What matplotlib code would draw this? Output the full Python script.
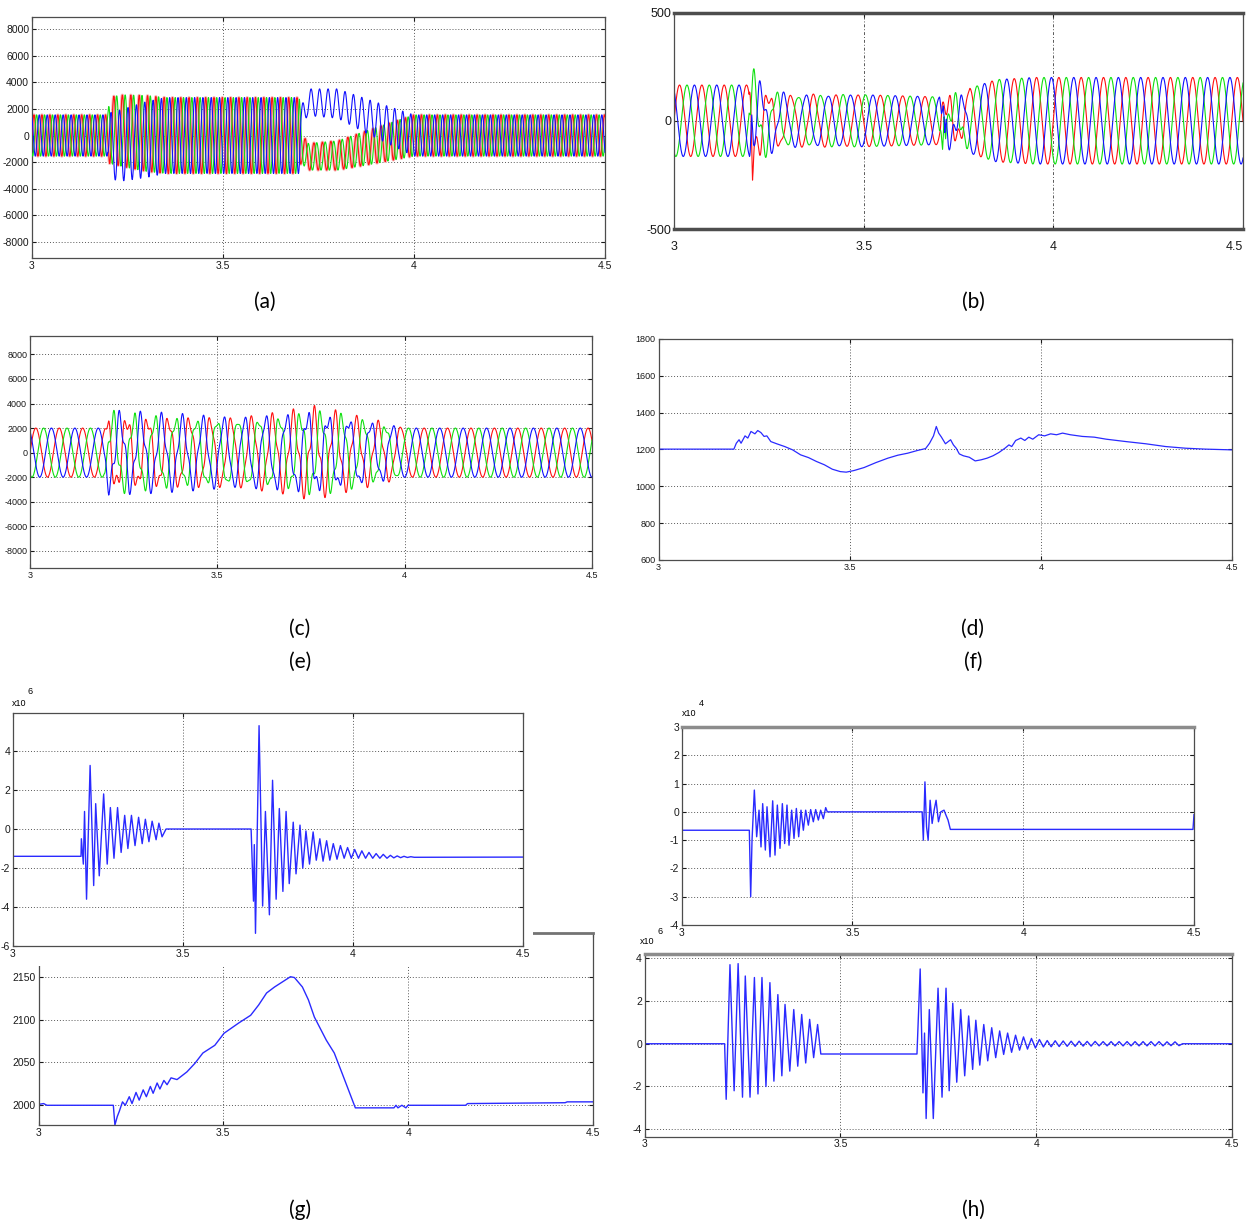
import numpy as np
import matplotlib
matplotlib.use("Agg")
import matplotlib.pyplot as plt
from matplotlib.patches import Rectangle

# ---------------- data ----------------
XT = [3.0, 3.5, 4.0, 4.5]
XTL = ['3', '3.5', '4', '4.5']

# (a) three-phase envelope knots
a_t    = [3.0, 3.198, 3.203, 3.24, 3.30, 3.35, 3.70, 3.705, 3.72, 3.80, 3.88, 4.0, 4.5]
a_amp  = [1550, 1550, 2500, 2700, 2850, 2850, 2850, 1300, 1000, 1100, 1300, 1550, 1550]
a_dcb  = [0, 0, -800, -700, -300, 0, 0, 800, 2500, 2400, 1400, 0, 0]
a_dcrg = [0, 0, 400, 350, 150, 0, 0, -700, -1600, -1500, -900, 0, 0]
a_freq = [48, 48, 45, 45, 46, 46, 46, 45, 45, 45, 46, 48, 48]
a_yt   = [-8000, -6000, -4000, -2000, 0, 2000, 4000, 6000, 8000]

# (b)
b_t    = [3.0, 3.198, 3.202, 3.215, 3.25, 3.30, 3.50, 3.70, 3.705, 3.72, 3.76, 3.78, 3.85, 3.95, 4.5]
b_amp  = [165, 165, 190, 150, 120, 115, 120, 110, 100, 90, 80, 150, 190, 200, 200]
b_dist = [0, 0, 90, 70, 40, 10, 0, 0, 60, 60, 40, 0, 0, 0, 0]
b_freq = [17, 17, 17, 17, 17, 17, 17, 17, 17, 17, 17, 17, 17, 17, 17]
b_spk_ph = [0, 2, 1, 2]
b_spk_t  = [3.207, 3.205, 3.712, 3.714]
b_spk_v  = [-170, 110, 170, -130]
b_yt   = [-500, 0, 500]

# (c)
c_t    = [3.0, 3.198, 3.21, 3.3, 3.45, 3.55, 3.68, 3.75, 3.82, 3.88, 3.95, 4.0, 4.5]
c_amp  = [2000, 2000, 2700, 2700, 2600, 2600, 2800, 3000, 2800, 2500, 2100, 2000, 2000]
c_dist = [0, 0, 900, 700, 500, 300, 600, 900, 700, 500, 400, 0, 0]
c_freq = [16, 16, 18, 18, 18, 18, 18, 18, 18, 17, 17, 16, 16]

# (d)
d_t = [3.000, 3.1972, 3.2035, 3.2107, 3.2159, 3.2263, 3.2336, 3.2419, 3.2522, 3.2595,
       3.2678, 3.2761, 3.2834, 3.2938, 3.3093, 3.3301, 3.3508, 3.3716, 3.3924, 3.4131,
       3.4339, 3.4546, 3.4754, 3.4910, 3.5117, 3.5377, 3.5688, 3.6000, 3.6259, 3.6519,
       3.6778, 3.6986, 3.7090, 3.7193, 3.7266, 3.7328, 3.7401, 3.7505, 3.7578, 3.7640,
       3.7713, 3.7786, 3.7868, 3.7972, 3.8128, 3.8283, 3.8439, 3.8595, 3.8750, 3.8906,
       3.9062, 3.9166, 3.9239, 3.9342, 3.9477, 3.9581, 3.9685, 3.9789, 3.9944, 4.0100,
       4.0256, 4.0411, 4.0567, 4.0775, 4.1086, 4.1397, 4.1709, 4.2228, 4.2747, 4.3266,
       4.3785, 4.4304, 4.5000]
d_v = [1202, 1202, 1234, 1253, 1234, 1274, 1262, 1298, 1285, 1303,
       1292, 1271, 1274, 1243, 1231, 1216, 1198, 1171, 1156, 1135,
       1117, 1093, 1080, 1077, 1086, 1102, 1129, 1153, 1169, 1180,
       1195, 1205, 1234, 1274, 1325, 1289, 1267, 1231, 1243, 1253,
       1225, 1207, 1176, 1166, 1158, 1138, 1144, 1153, 1166, 1184,
       1207, 1225, 1216, 1249, 1262, 1249, 1267, 1256, 1280, 1274,
       1285, 1280, 1289, 1280, 1271, 1267, 1256, 1243, 1231, 1216,
       1207, 1202, 1198]
d_yt = [600, 800, 1000, 1200, 1400, 1600, 1800]

# (g) top, x10^6
g1_t = ([3.0, 3.2] +
        [3.2011, 3.2069, 3.2104, 3.2163, 3.2268, 3.2373, 3.2432, 3.2537, 3.2666, 3.2771,
         3.2864, 3.2970, 3.3075, 3.3180, 3.3285, 3.3379, 3.3484, 3.3589, 3.3694, 3.3800,
         3.3893, 3.3998, 3.4092, 3.4209, 3.4291, 3.4384, 3.4501] +
        [3.7003, 3.7073, 3.7097, 3.7132, 3.7237, 3.7342, 3.7424, 3.7541, 3.7634, 3.7739,
         3.7833, 3.7938, 3.8032, 3.8125, 3.8242, 3.8324, 3.8441, 3.8523, 3.8616, 3.8721,
         3.8827, 3.8920, 3.9025, 3.9119, 3.9224, 3.9318] +
        [3.942, 3.953, 3.963, 3.974, 3.984, 3.995, 4.005, 4.016, 4.026, 4.037, 4.047,
         4.058, 4.068, 4.079, 4.089, 4.100, 4.110, 4.120, 4.130, 4.140, 4.150, 4.160,
         4.170, 4.180, 4.5])
g1_v = ([-1.4, -1.4] +
        [-0.5, -1.8, 0.9, -3.6, 3.26, -2.9, 1.3, -2.4, 1.8, -1.8,
         1.1, -1.5, 1.1, -1.2, 0.7, -1.0, 0.7, -0.85, 0.6, -0.75,
         0.5, -0.65, 0.4, -0.55, 0.3, -0.4, 0.0] +
        [0.0, -3.7, -0.8, -5.35, 5.3, -3.95, 0.9, -4.4, 2.5, -3.6,
         1.05, -3.2, 0.9, -2.8, 0.35, -2.3, 0.2, -2.0, -0.1, -1.8,
         -0.15, -1.6, -0.5, -1.65, -0.6, -1.6] +
        [-0.75, -1.55, -0.85, -1.5, -0.95, -1.5, -1.05, -1.5, -1.12, -1.5, -1.2,
         -1.5, -1.26, -1.5, -1.3, -1.5, -1.35, -1.48, -1.38, -1.47, -1.4, -1.46,
         -1.42, -1.45, -1.44])
g1_yt = [-6, -4, -2, 0, 2, 4]

# (g) bottom
g2_t = [3.000, 3.014, 3.0226, 3.2024, 3.2067, 3.2132, 3.2186, 3.2272, 3.2347, 3.2455,
        3.2530, 3.2638, 3.2724, 3.2832, 3.2918, 3.3026, 3.3101, 3.3209, 3.3284, 3.3392,
        3.3478, 3.3586, 3.3747, 3.4016, 3.4232, 3.4447, 3.4770, 3.5018, 3.5416, 3.5739,
        3.5955, 3.6170, 3.6385, 3.6601, 3.6816, 3.6924, 3.7139, 3.7301, 3.7462, 3.7785,
        3.8001, 3.8216, 3.8571, 3.9616, 3.9670, 3.9723, 3.9830, 3.9939, 3.9993, 4.1554,
        4.1608, 4.4246, 4.4300, 4.5000]
g2_v = [2001, 2002, 2000, 2000, 1977, 1987, 1993, 2004, 2000, 2010,
        2002, 2015, 2006, 2018, 2010, 2022, 2014, 2026, 2019, 2029,
        2024, 2032, 2030, 2039, 2049, 2061, 2070, 2084, 2096, 2105,
        2117, 2131, 2138, 2144, 2150, 2149, 2138, 2123, 2103, 2076,
        2061, 2037, 1997, 1997, 2000, 1997, 2000, 1997, 2000, 2000,
        2002, 2003, 2004, 2004]
g2_yt = [2000, 2050, 2100, 2150]

# (h) top, x10^4
h1_t = ([3.0] +
        [3.1980, 3.2020, 3.2059, 3.2127, 3.2195, 3.2264, 3.2322, 3.2371, 3.2449, 3.2498,
         3.2586, 3.2664, 3.2732, 3.2800, 3.2878, 3.2947, 3.3015, 3.3083, 3.3142, 3.3220,
         3.3288, 3.3357, 3.3425, 3.3493, 3.3562, 3.3630, 3.3708, 3.3776, 3.3854, 3.3923,
         3.4001, 3.4069, 3.4147, 3.4216, 3.4264] +
        [3.7040, 3.7075, 3.7122, 3.7169, 3.7216, 3.7274, 3.7333, 3.7391, 3.7448, 3.7518,
         3.7587, 3.7681, 3.7739, 3.7798, 3.7866] +
        [4.497, 4.5])
h1_v = ([-0.65] +
        [-0.65, -3.0, -1.0, 0.77, -0.88, 0.06, -1.24, 0.29, -1.35, 0.18,
         -1.59, 0.39, -1.53, 0.24, -1.29, 0.29, -1.12, 0.24, -1.18, 0.06,
         -0.94, 0.12, -0.88, 0.06, -0.65, 0.06, -0.47, 0.08, -0.35, 0.08,
         -0.29, 0.06, -0.24, 0.15, 0.0] +
        [0.0, -1.0, 1.06, -0.53, -1.0, 0.41, -0.41, 0.06, 0.41, -0.35,
         0.0, 0.06, -0.12, -0.29, -0.62] +
        [-0.62, -0.1])
h1_yt = [-4, -3, -2, -1, 0, 1, 2, 3]

# (h) bottom, x10^6
h2_t = ([3.0] +
        [3.2041, 3.2081, 3.2178, 3.2284, 3.2386, 3.2498, 3.2569, 3.2690, 3.2802, 3.2893,
         3.2995, 3.3097, 3.3198, 3.3300, 3.3401, 3.3503, 3.3584, 3.3706, 3.3807, 3.3909,
         3.4010, 3.4112, 3.4213, 3.4315, 3.4416, 3.4498] +
        [3.6954, 3.7036, 3.7107, 3.7147, 3.7188, 3.7269, 3.7371, 3.7492, 3.7594, 3.7696,
         3.7777, 3.7868, 3.7970, 3.8071, 3.8173, 3.8274, 3.8376, 3.8457, 3.8558, 3.8660,
         3.8761, 3.8863, 3.8965, 3.9066, 3.9168, 3.9269, 3.9371, 3.9472, 3.9574, 3.9675,
         3.9777, 3.9878, 3.9980, 4.0081, 4.0183])
h2_v = ([0.0] +
        [0.0, -2.6, 3.7, -2.2, 3.75, -2.5, 3.17, -2.5, 3.1, -2.35,
         3.1, -2.0, 2.86, -1.75, 2.3, -1.5, 1.84, -1.28, 1.6, -1.05,
         1.37, -0.9, 1.14, -0.65, 0.9, -0.48] +
        [-0.48, 3.5, -2.3, 0.5, -3.5, 1.6, -3.5, 2.6, -2.5, 2.6,
         -2.2, 1.9, -1.8, 1.6, -1.5, 1.3, -1.2, 1.1, -1.0, 0.9,
         -0.8, 0.75, -0.65, 0.6, -0.5, 0.5, -0.4, 0.4, -0.3, 0.32,
         -0.25, 0.25, -0.2, 0.2, -0.15])
h2_rip_t0, h2_rip_half = 4.028, 0.0102
h2_rip_v = [0.15, -0.14, 0.14, -0.13, 0.13, -0.12, 0.12, -0.12, 0.12, -0.11, 0.11, -0.11,
            0.11, -0.10, 0.10, -0.10, 0.10, -0.10, 0.10, -0.10, 0.10, -0.10, 0.10, -0.10,
            0.10, -0.10, 0.10, -0.10, 0.10, -0.10, 0.09, -0.09, 0.09, -0.09]
h2_end_t = [4.3736, 4.5]
h2_end_v = [0.0, 0.0]
h2_yt = [-4, -2, 0, 2, 4]

PANEL_LABELS = ['(a)', '(b)', '(c)', '(d)', '(e)', '(f)', '(g)', '(h)']
PANEL_XY = [(265, 302), (973, 302), (300, 629), (973, 629), (300, 662), (973, 662),
            (300, 1210), (973, 1210)]

# ---------------- drawing ----------------
W, H = 1250, 1224
fig = plt.figure(figsize=(W / 100, H / 100), dpi=100)
fig.patch.set_facecolor('white')
TF = ['Liberation Sans Narrow', 'Liberation Sans', 'DejaVu Sans']
RED, GREEN, BLUE = '#ff1010', '#10e010', '#1010ff'
LBLUE = '#2a2aff'


def add_ax(l, t, r, b, z=0):
    return fig.add_axes([l / W, 1 - b / H, (r - l) / W, (b - t) / H], zorder=z)


def style(ax, ylim, yticks, fs=7.5, grid_y=True, grid_x=True, xpad=2):
    ax.set_xlim(3.0, 4.5)
    ax.set_ylim(*ylim)
    ax.set_xticks(XT)
    ax.set_xticklabels(XTL)
    ax.set_yticks(yticks)
    ax.set_yticklabels([str(v) for v in yticks])
    ax.tick_params(direction='in', length=3, width=0.8, top=True, right=True,
                   labelsize=fs, pad=2, colors='0.1')
    ax.tick_params(axis='x', pad=xpad)
    for lab in ax.get_xticklabels() + ax.get_yticklabels():
        lab.set_family(TF)
    if grid_x:
        ax.grid(True, axis='x', linestyle=(0, (1, 2)), color='0.35', linewidth=0.7)
    if grid_y:
        ax.grid(True, axis='y', linestyle=(0, (1, 2)), color='0.35', linewidth=0.7)
    ax.set_axisbelow(True)
    for sp in ax.spines.values():
        sp.set_color('0.3')
        sp.set_linewidth(0.9)


T = np.arange(3.0, 4.5 + 1e-9, 1e-4)


def three_phase(kt, amp, freq, dcb=None, dcrg=None, dist=None, spk_ph=(), spk_t=(), spk_v=(), fd=47.0):
    A = np.interp(T, kt, amp)
    f = np.interp(T, kt, freq)
    ph = 2 * np.pi * np.cumsum(f) * 1e-4
    D = np.interp(T, kt, dist) if dist is not None else 0 * T
    dc_b = np.interp(T, kt, dcb) if dcb is not None else 0 * T
    dc_rg = np.interp(T, kt, dcrg) if dcrg is not None else -dc_b / 2
    out = []
    for k in range(3):
        y = A * np.sin(ph - 2 * np.pi * k / 3) + D * np.sin(2 * np.pi * fd * T + 2.1 * k)
        y = y + (dc_b if k == 2 else dc_rg)
        for p, t0, v in zip(spk_ph, spk_t, spk_v):
            if p == k:
                y = y + np.interp(T, [t0 - 0.004, t0, t0 + 0.004], [0, v, 0], left=0, right=0)
        out.append(y)
    return out


# (a)
ax = add_ax(32, 17, 605, 258)
ya = three_phase(a_t, a_amp, a_freq, dcb=a_dcb, dcrg=a_dcrg)
ax.plot(T, ya[0], color='#f6b8b8', lw=2.2, zorder=2)
for y, c in zip(ya, [RED, GREEN, BLUE]):
    ax.plot(T, y, color=c, lw=0.8, zorder=3)
style(ax, (-9200, 8900), a_yt, fs=7.5)

# (b)
ax = add_ax(674, 12.5, 1243, 229)
yb = three_phase(b_t, b_amp, b_freq, dist=b_dist, spk_ph=b_spk_ph, spk_t=b_spk_t, spk_v=b_spk_v)
for y, c in zip(yb, [RED, GREEN, BLUE]):
    ax.plot(T, y, color=c, lw=0.8)
style(ax, (-500, 500), b_yt, fs=9, grid_y=False, xpad=9)
ax.axhline(0, color='0.3', lw=0.7, ls=(0, (1, 2)))
ax.grid(True, axis='x', linestyle=(0, (3, 2, 1, 2)), color='0.35', linewidth=0.7)
ax.spines['top'].set_linewidth(2.5)
ax.spines['bottom'].set_linewidth(2.5)
ax.get_xticklabels()[-1].set_horizontalalignment('right')

# (c)
ax = add_ax(30, 336, 592, 568)
yc = three_phase(c_t, c_amp, c_freq, dist=c_dist, fd=53.0)
for y, c in zip(yc, [RED, GREEN, BLUE]):
    ax.plot(T, y, color=c, lw=0.8)
style(ax, (-9400, 9500), a_yt, fs=6.5)

# (d)
ax = add_ax(658.5, 339, 1232, 560)
ax.plot(d_t, d_v, color=LBLUE, lw=0.9)
style(ax, (600, 1800), d_yt, fs=6.5)

# (g) bottom (drawn first, partially hidden)
axg2 = add_ax(38.5, 933, 593, 1125, z=0)
axg2.plot(g2_t, g2_v, color=LBLUE, lw=1.0)
style(axg2, (1977, 2201), g2_yt, fs=7.5)
axg2.spines['top'].set_linewidth(2.0)
axg2.spines['top'].set_color('0.45')
fig.add_artist(Rectangle((0, 1 - 966 / H), 533 / W, (966 - 690) / H, transform=fig.transFigure,
                         facecolor='white', edgecolor='none', zorder=1))

# (g) top
axg1 = add_ax(13, 713, 523, 946, z=2)
axg1.plot(g1_t, g1_v, color=LBLUE, lw=1.0)
style(axg1, (-6, 5.95), g1_yt, fs=7.5)
fig.text(12 / W, 1 - 704 / H, 'x10', fontsize=6.5, family=TF, ha='left', va='center')
fig.text(27 / W, 1 - 692 / H, '6', fontsize=6.5, family=TF, ha='left', va='center')

# (h) top
ax = add_ax(681.7, 727, 1194, 925)
ax.plot(h1_t, h1_v, color=LBLUE, lw=1.0)
style(ax, (-4, 3), h1_yt, fs=7.5)
ax.spines['top'].set_linewidth(2.5)
ax.spines['top'].set_color('0.55')
fig.text(682 / W, 1 - 713 / H, 'x10', fontsize=6.5, family=TF, ha='left', va='center')
fig.text(699 / W, 1 - 703 / H, '4', fontsize=6.5, family=TF, ha='left', va='center')

# (h) bottom
ax = add_ax(644.7, 954, 1232, 1136.7)
rip_t = [h2_rip_t0 + i * h2_rip_half for i in range(len(h2_rip_v))]
ax.plot(h2_t + rip_t + h2_end_t, h2_v + h2_rip_v + h2_end_v, color=LBLUE, lw=1.0)
style(ax, (-4.35, 4.2), h2_yt, fs=7.5)
ax.spines['top'].set_linewidth(2.5)
ax.spines['top'].set_color('0.55')
fig.text(640 / W, 1 - 942 / H, 'x10', fontsize=6.5, family=TF, ha='left', va='center')
fig.text(657 / W, 1 - 931 / H, '6', fontsize=6.5, family=TF, ha='left', va='center')

# panel labels
for lab, (x, y) in zip(PANEL_LABELS, PANEL_XY):
    fig.text(x / W, 1 - y / H, lab, fontsize=15, family=['Lato', 'DejaVu Sans'],
             ha='center', va='center')

fig.savefig('out.png', dpi=100, facecolor='white')
